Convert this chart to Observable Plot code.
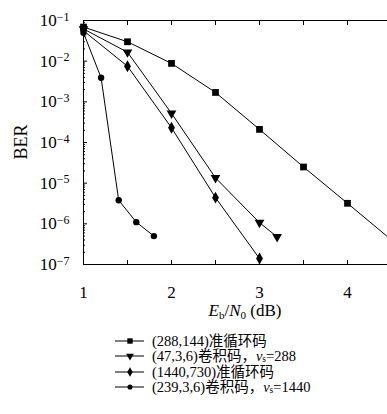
<!DOCTYPE html>
<html><head><meta charset="utf-8">
<script src="https://cdn.jsdelivr.net/npm/d3@7"></script>
<script src="https://cdn.jsdelivr.net/npm/@observablehq/plot@0.6"></script>
<style>
body{margin:0;overflow:hidden;background:#fff;font-family:"Liberation Serif","DejaVu Serif","Noto Sans CJK SC",serif;color:#000}
#wrap{position:relative;width:387px;height:414px;overflow:hidden}
#plot{position:absolute;left:0;top:0;width:400px}
#plot svg text{font-family:"Liberation Serif","DejaVu Serif",serif !important}
.abs{position:absolute;white-space:nowrap}
.sub{position:relative;top:0.25em;font-size:0.65em;line-height:0}
</style></head><body><div id="wrap"><div id="plot"></div></div>
<script>
// series names
const names = ["(288,144)准循环码", "(47,3,6)卷积码，v_s=288", "(1440,730)准循环码", "(239,3,6)卷积码，v_s=1440"];
// series values
const xA = [1, 1.5, 2, 2.5, 3, 3.5, 4, 4.5];
const yA = [0.069, 0.030, 0.0088, 0.0017, 2.1e-4, 2.5e-5, 3.2e-6, 4.0e-7];
const xB = [1, 1.5, 2, 2.5, 3, 3.2];
const yB = [0.062, 0.0166, 5.2e-4, 1.35e-5, 1.07e-6, 4.8e-7];
const xC = [1, 1.5, 2, 2.5, 3];
const yC = [0.056, 0.0075, 2.3e-4, 4.4e-6, 1.4e-7];
const xD = [1, 1.2, 1.4, 1.6, 1.8];
const yD = [0.05, 0.0039, 3.8e-6, 1.1e-6, 5.0e-7];
// ticks
const xLabelTicks = [1, 2, 3, 4];
const xMinorTicks = [1.5, 2, 2.5, 3, 3.5, 4, 4.5];
const yMajorTicks = [1e-7, 1e-6, 1e-5, 1e-4, 1e-3, 1e-2, 1e-1];

const xs = [xA, xB, xC, xD], ys = [yA, yB, yC, yD];
const symbols = ["square", "triangle", "diamond", "circle"];
const rotates = [0, 180, 0, 0];
const radii = [3.8, 3.6, 3.6, 3.2];
const data = [];
xs.forEach((xv, i) => xv.forEach((x, j) => data.push({series: names[i], x, y: ys[i][j]})));

const yMinor = [];
for (let e = -7; e < -1; e++) for (let k = 2; k <= 9; k++) yMinor.push(k * Math.pow(10, e));

const serif = '"Liberation Serif","DejaVu Serif",serif';
const marks = [
  Plot.ruleY([1e-1], {stroke: "black", strokeWidth: 1}),
  Plot.ruleY([1e-7], {stroke: "black", strokeWidth: 1}),
  Plot.ruleX([1], {stroke: "black", strokeWidth: 1}),
  Plot.axisX({anchor: "bottom", ticks: xMinorTicks, tickSize: -4, tickFormat: () => "", label: null}),
  Plot.axisX({anchor: "top", ticks: xMinorTicks, tickSize: -4, tickFormat: () => "", label: null}),
  Plot.axisX({anchor: "bottom", ticks: xLabelTicks, tickSize: 0, tickPadding: 21, fontSize: 17, fontFamily: serif, tickFormat: d => String(d), label: null}),
  Plot.axisY({anchor: "left", ticks: yMajorTicks, tickSize: -4, tickFormat: () => "", label: null}),
  Plot.axisY({anchor: "left", ticks: yMinor, tickSize: -2, tickFormat: () => "", label: null}),
  Plot.axisY({anchor: "left", ticks: yMajorTicks, tickSize: 0, tickPadding: 14, fontSize: 17, fontFamily: serif, tickFormat: d => "10^" + Math.round(Math.log10(d)), label: null})
];
names.forEach((n, i) => {
  const sub = data.filter(d => d.series === n);
  marks.push(Plot.line(sub, {x: "x", y: "y", stroke: "black", strokeWidth: 1}));
  marks.push(Plot.dot(sub, {x: "x", y: "y", symbol: symbols[i], r: radii[i], fill: "black", stroke: "none", rotate: rotates[i]}));
});

const chart = Plot.plot({
  width: 400, height: 300,
  marginLeft: 83, marginRight: 9, marginTop: 20, marginBottom: 36,
  style: {fontFamily: serif, fontSize: "16px", color: "black", background: "white", overflow: "visible", maxWidth: "none"},
  x: {domain: [1, 4.5]},
  y: {type: "log", domain: [1e-7, 1e-1]},
  marks
});
chart.style.maxWidth = "none";
chart.style.fontFamily = serif;
document.getElementById("plot").appendChild(chart);

// superscript exponents on y labels
d3.select(chart).selectAll("text").each(function() {
  const t = d3.select(this);
  t.attr("font-family", serif);
  const s = t.text();
  if (!s.startsWith("10^")) return;
  const e = s.slice(3).replace("-", "\u2212");
  t.text(null);
  t.append("tspan").text("10");
  t.append("tspan").attr("dy", "-0.45em").attr("font-size", "12px").text(e);
});

const wrap = d3.select("#wrap");
// y axis title
wrap.append("div").attr("class", "abs")
  .style("left", "2px").style("top", "131px").style("font-size", "18px")
  .style("transform", "rotate(-90deg)").style("transform-origin", "20px 11px").style("width", "40px").style("text-align", "center")
  .text("BER");
// x axis title
wrap.append("div").attr("class", "abs")
  .style("left", "145px").style("width", "200px").style("text-align", "center")
  .style("top", "301px").style("font-size", "17px").style("line-height", "20px")
  .html('<i>E</i><span class="sub">b</span>/<i>N</i><span class="sub">0</span> (dB)');

// legend
const rowY = [340.5, 356, 371.5, 387];
names.forEach((n, i) => {
  const row = wrap.append("div").attr("class", "abs")
    .style("left", "113px").style("top", (rowY[i] - 7) + "px").style("height", "14px")
    .style("display", "flex").style("align-items", "center");
  const svg = row.append("svg").attr("width", 34).attr("height", 14);
  svg.append("line").attr("x1", 2).attr("x2", 31).attr("y1", 7).attr("y2", 7).attr("stroke", "black");
  const sym = {square: d3.symbolSquare, triangle: d3.symbolTriangle, diamond: d3.symbolDiamond, circle: d3.symbolCircle}[symbols[i]];
  const r = radii[i] * 0.8;
  svg.append("path").attr("d", d3.symbol(sym, Math.PI * r * r)()).attr("transform", `translate(17,7) rotate(${rotates[i]})`).attr("fill", "black");
  const label = n.replace(/v_s=(\d+)/, '<i>v</i><span class="sub" style="top:0.15em">s</span>=$1');
  row.append("span").style("font-size", "14.5px").style("margin-left", "5px").style("line-height", "14px").html(label);
});
</script>
</body></html>
